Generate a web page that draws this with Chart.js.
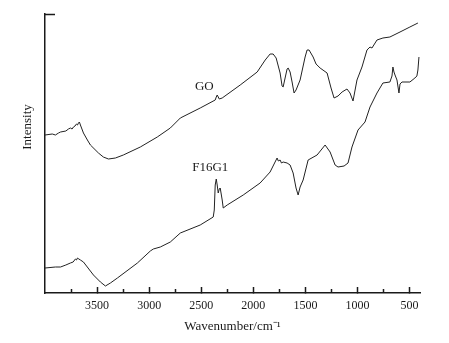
<!DOCTYPE html>
<html>
<head>
<meta charset="utf-8">
<script src="https://cdn.jsdelivr.net/npm/chart.js@4/dist/chart.umd.min.js"></script>
<style>
html,body{margin:0;padding:0;background:#fff;}
#wrap{width:449px;height:343px;}
</style>
</head>
<body>
<div id="wrap"><canvas id="c" width="449" height="343"></canvas></div>
<script>
// ---- data ----
const seriesLabels = ['GO', 'F16G1'];
const goWavenumber = [4000,3930,3900,3870,3851,3800,3775,3756,3740,3727,3712,3698,3688,3679,3670,3660,3631,3593,3564,3487,3440,3391,3324,3248,3085,2922,2797,2701,2510,2366,2356,2347,2327,2299,2126,1963,1886,1839,1810,1781,1743,1724,1714,1695,1676,1666,1647,1628,1609,1590,1551,1503,1484,1465,1426,1398,1359,1292,1254,1225,1187,1148,1101,1072,1043,1005,957,909,880,861,813,756,689,592,497,420];
const goIntensity   = [158,159,158,160,161,162,164,165,164,166,167,169,168,170,171,168,160,153,148,140,136,134,135,138,146,156,165,175,185,193,196,198,194,195,208,221,233,239,239,235,220,207,206,215,224,225,221,211,200,203,213,236,243,243,236,229,225,220,205,195,197,201,204,200,192,213,226,243,246,245,253,255,256,261,266,270];
const f16Wavenumber = [4000,3900,3851,3800,3756,3730,3708,3698,3688,3675,3660,3631,3535,3468,3420,3372,3305,3113,2989,2960,2893,2797,2701,2510,2385,2375,2366,2356,2347,2337,2327,2318,2299,2289,2251,2097,1935,1839,1772,1760,1743,1730,1714,1676,1647,1618,1590,1570,1551,1522,1474,1388,1311,1263,1215,1187,1129,1091,1053,995,928,880,813,756,689,669,660,650,640,621,602,592,573,497,449,430,420,410];
const f16Intensity  = [25,26,26,28,30,31,34,33,35,34,33,31,18,11,7,10,15,30,42,44,46,51,60,68,76,83,108,114,108,100,104,105,93,85,88,98,110,121,135,132,133,130,131,130,128,120,105,98,106,113,133,138,148,141,128,126,127,130,146,163,171,186,200,210,211,217,226,221,218,213,200,209,211,211,215,217,223,236];
const majorTicks = [3500,3000,2500,2000,1500,1000,500];
const minorTicks = [3750,3250,2750,2250,1750,1250,750];
const xTitle = 'Wavenumber/cm\u207B\u00B9';
const yTitle = 'Intensity';

const toPoints = (xs, ys) => xs.map((x, i) => ({x: x, y: ys[i]}));

const serif = "'Liberation Serif','Times New Roman',serif";
const ink = '#1a1a1a';

const textPlugin = {
  id: 'texts',
  afterDraw(chart) {
    const {ctx, scales: {x, y}, chartArea} = chart;
    ctx.save();
    ctx.fillStyle = ink;
    ctx.font = '13px ' + serif;
    ctx.textAlign = 'center';
    ctx.textBaseline = 'middle';
    ctx.fillText(seriesLabels[0], x.getPixelForValue(2471), y.getPixelForValue(206));
    ctx.fillText(seriesLabels[1], x.getPixelForValue(2414), y.getPixelForValue(125));
    ctx.translate(chartArea.left - 17, y.getPixelForValue(166));
    ctx.rotate(-Math.PI / 2);
    ctx.fillText(yTitle, 0, 0);
    ctx.restore();
  }
};

new Chart(document.getElementById('c'), {
  type: 'line',
  data: {
    datasets: [
      {label: seriesLabels[0], data: toPoints(goWavenumber, goIntensity), borderColor: '#222', borderWidth: 1, pointRadius: 0, tension: 0, fill: false},
      {label: seriesLabels[1], data: toPoints(f16Wavenumber, f16Intensity), borderColor: '#222', borderWidth: 1, pointRadius: 0, tension: 0, fill: false}
    ]
  },
  options: {
    responsive: false,
    animation: false,
    events: [],
    layout: {padding: {left: 0, right: 29, top: 14, bottom: 0}},
    plugins: {legend: {display: false}, tooltip: {enabled: false}},
    scales: {
      x: {
        type: 'linear', position: 'bottom', reverse: true, min: 400, max: 4000, weight: 1,
        afterBuildTicks: s => { s.ticks = majorTicks.map(v => ({value: v})); },
        afterFit: s => { s.height = 50; },
        grid: {display: true, drawOnChartArea: false, drawTicks: true, tickLength: -6, tickWidth: 1.5, tickColor: ink},
        border: {display: true, color: ink, width: 1.5},
        ticks: {color: ink, font: {family: serif, size: 12}, padding: 12, maxRotation: 0, autoSkip: false, callback: v => String(v)},
        title: {display: true, text: xTitle, color: ink, font: {family: serif, size: 13}, padding: {top: 0, bottom: 9}}
      },
      x2: {
        type: 'linear', position: 'bottom', reverse: true, min: 400, max: 4000, weight: 0,
        afterBuildTicks: s => { s.ticks = minorTicks.map(v => ({value: v})); },
        afterFit: s => { s.height = 0; },
        grid: {display: true, drawOnChartArea: false, drawTicks: true, tickLength: -4, tickWidth: 1.5, tickColor: ink},
        border: {display: false},
        ticks: {display: false}
      },
      y: {
        type: 'linear', position: 'left', min: 0, max: 279,
        afterBuildTicks: s => { s.ticks = [{value: 279}]; },
        afterFit: s => { s.width = 45; },
        grid: {display: true, drawOnChartArea: false, drawTicks: true, tickLength: -10, tickWidth: 1.5, tickColor: ink},
        border: {display: true, color: ink, width: 1.5},
        ticks: {display: false}
      }
    }
  },
  plugins: [textPlugin]
});
</script>
</body>
</html>
